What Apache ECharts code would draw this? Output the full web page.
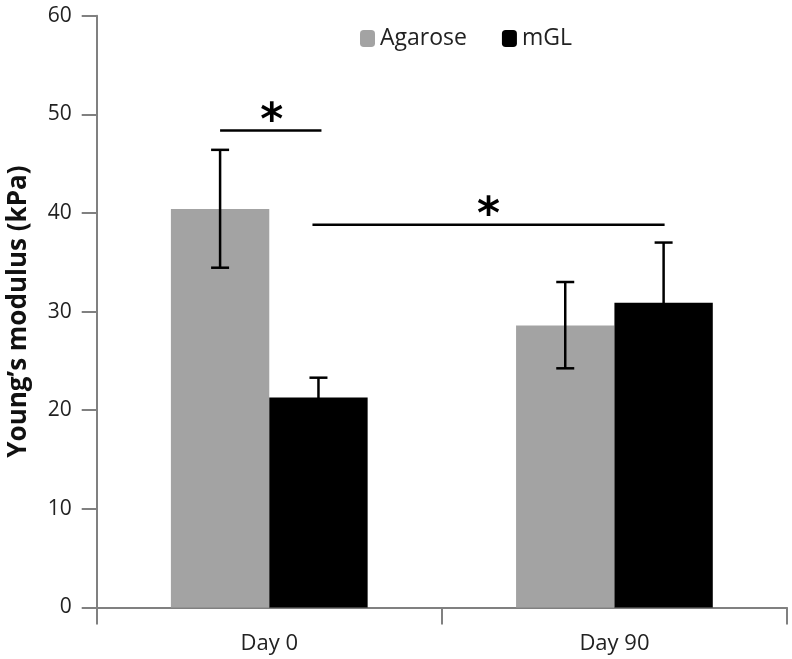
<!DOCTYPE html>
<html><head><meta charset="utf-8">
<script src="https://cdn.jsdelivr.net/npm/echarts@6/dist/echarts.min.js"></script>
<style>html,body{margin:0;padding:0;background:#fff}#c{width:792px;height:659px}</style>
</head><body><div id="c"></div>
<script>
var categories = ['Day 0', 'Day 90'];
var seriesNames = ['Agarose', 'mGL'];
var agarose = [40.4, 28.6];
var mgl = [21.3, 30.9];
var agaroseLow = [34.45, 24.25];
var agaroseHigh = [46.4, 33.0];
var mglLow = [19.4, 24.8];
var mglHigh = [23.3, 37.0];
// significance brackets: [fromCategory, fromSeries], [toCategory, toSeries], yValue
var sigFrom = [[0, 0], [0, 1]];
var sigTo = [[0, 1], [1, 1]];
var sigY = [48.35, 38.8];
var yTicks = [0, 10, 20, 30, 40, 50, 60];

var GAP = 0.43;
function barCenter(api, cat, s) {
  var c = api.coord([cat, 0]);
  var band = api.size([1, 0])[0];
  var w = band * (1 - GAP) / 2;
  return { x: c[0] + (s === 0 ? -w / 2 : w / 2), w: w };
}
function errSeries(sIdx, low, high) {
  return {
    type: 'custom', z: 5,
    data: categories.map(function (c, i) { return [i, low[i], high[i]]; }),
    renderItem: function (params, api) {
      var cat = api.value(0);
      var b = barCenter(api, cat, sIdx);
      var yl = api.coord([cat, api.value(1)])[1];
      var yh = api.coord([cat, api.value(2)])[1];
      var cap = 9;
      var st = { stroke: '#000', lineWidth: 2.5 };
      return { type: 'group', children: [
        { type: 'line', shape: { x1: b.x, y1: yl, x2: b.x, y2: yh }, style: st },
        { type: 'line', shape: { x1: b.x - cap, y1: yh, x2: b.x + cap, y2: yh }, style: st },
        { type: 'line', shape: { x1: b.x - cap, y1: yl, x2: b.x + cap, y2: yl }, style: st }
      ]};
    }
  };
}

var chart = echarts.init(document.getElementById('c'));
chart.setOption({
  animation: false,
  textStyle: { fontFamily: 'Open Sans' },
  grid: { left: 96.7, right: 5, top: 15.7, bottom: 51.5, containLabel: false, outerBoundsMode: 'none' },
  legend: {
    data: seriesNames, left: 355, top: 22, itemWidth: 15, itemHeight: 17, itemGap: 35,
    textStyle: { fontSize: 23, color: '#222', fontFamily: 'Open Sans' }
  },
  xAxis: {
    type: 'category', data: categories,
    axisLine: { lineStyle: { color: '#808080', width: 2 } },
    axisTick: { show: true, length: 17, lineStyle: { color: '#808080', width: 2 } },
    axisLabel: { fontSize: 22, color: '#222', margin: 25, fontFamily: 'Open Sans' }
  },
  yAxis: {
    type: 'value', min: 0, max: 60, interval: 10,
    name: 'Young\u2019s modulus (kPa)', nameLocation: 'middle', nameGap: 65,
    nameTextStyle: { fontSize: 26, fontWeight: 'bold', color: '#111', fontFamily: 'Open Sans' },
    axisLine: { show: true, lineStyle: { color: '#808080', width: 2 } },
    axisTick: { show: true, length: 15, lineStyle: { color: '#808080', width: 2 } },
    axisLabel: { fontSize: 21, color: '#222', margin: 25, fontFamily: 'Open Sans',
      formatter: function (v) { return yTicks.indexOf(v) >= 0 ? String(v) : ''; } },
    splitLine: { show: false }
  },
  series: [
    { name: seriesNames[0], type: 'bar', data: agarose, barGap: '0%', barCategoryGap: (GAP * 100) + '%',
      itemStyle: { color: '#a3a3a3' } },
    { name: seriesNames[1], type: 'bar', data: mgl, barGap: '0%', barCategoryGap: (GAP * 100) + '%',
      itemStyle: { color: '#000' } },
    errSeries(0, agaroseLow, agaroseHigh),
    errSeries(1, mglLow, mglHigh),
    {
      type: 'custom', z: 6,
      data: sigY.map(function (y, i) { return [sigFrom[i][0], sigFrom[i][1], sigTo[i][0], sigTo[i][1], y]; }),
      renderItem: function (params, api) {
        var a = barCenter(api, api.value(0), api.value(1));
        var b = barCenter(api, api.value(2), api.value(3));
        var y = api.coord([0, api.value(4)])[1];
        var x1 = a.x, x2 = b.x + 3;
        if (params.dataIndex === 1) { x1 = a.x - 6; x2 = b.x + 1; }
        var mid = params.dataIndex === 0 ? (x1 + x2) / 2 + 1 : (x1 + x2) / 2;
        return { type: 'group', children: [
          { type: 'line', shape: { x1: x1, y1: y, x2: x2, y2: y }, style: { stroke: '#000', lineWidth: 2.5 } },
          { type: 'text', style: { text: '*', x: mid, y: y + 14, align: 'center', verticalAlign: 'bottom',
              fontSize: 44, fontWeight: 'bold', fill: '#000', fontFamily: 'DejaVu Sans' } }
        ]};
      }
    }
  ]
});
</script></body></html>
